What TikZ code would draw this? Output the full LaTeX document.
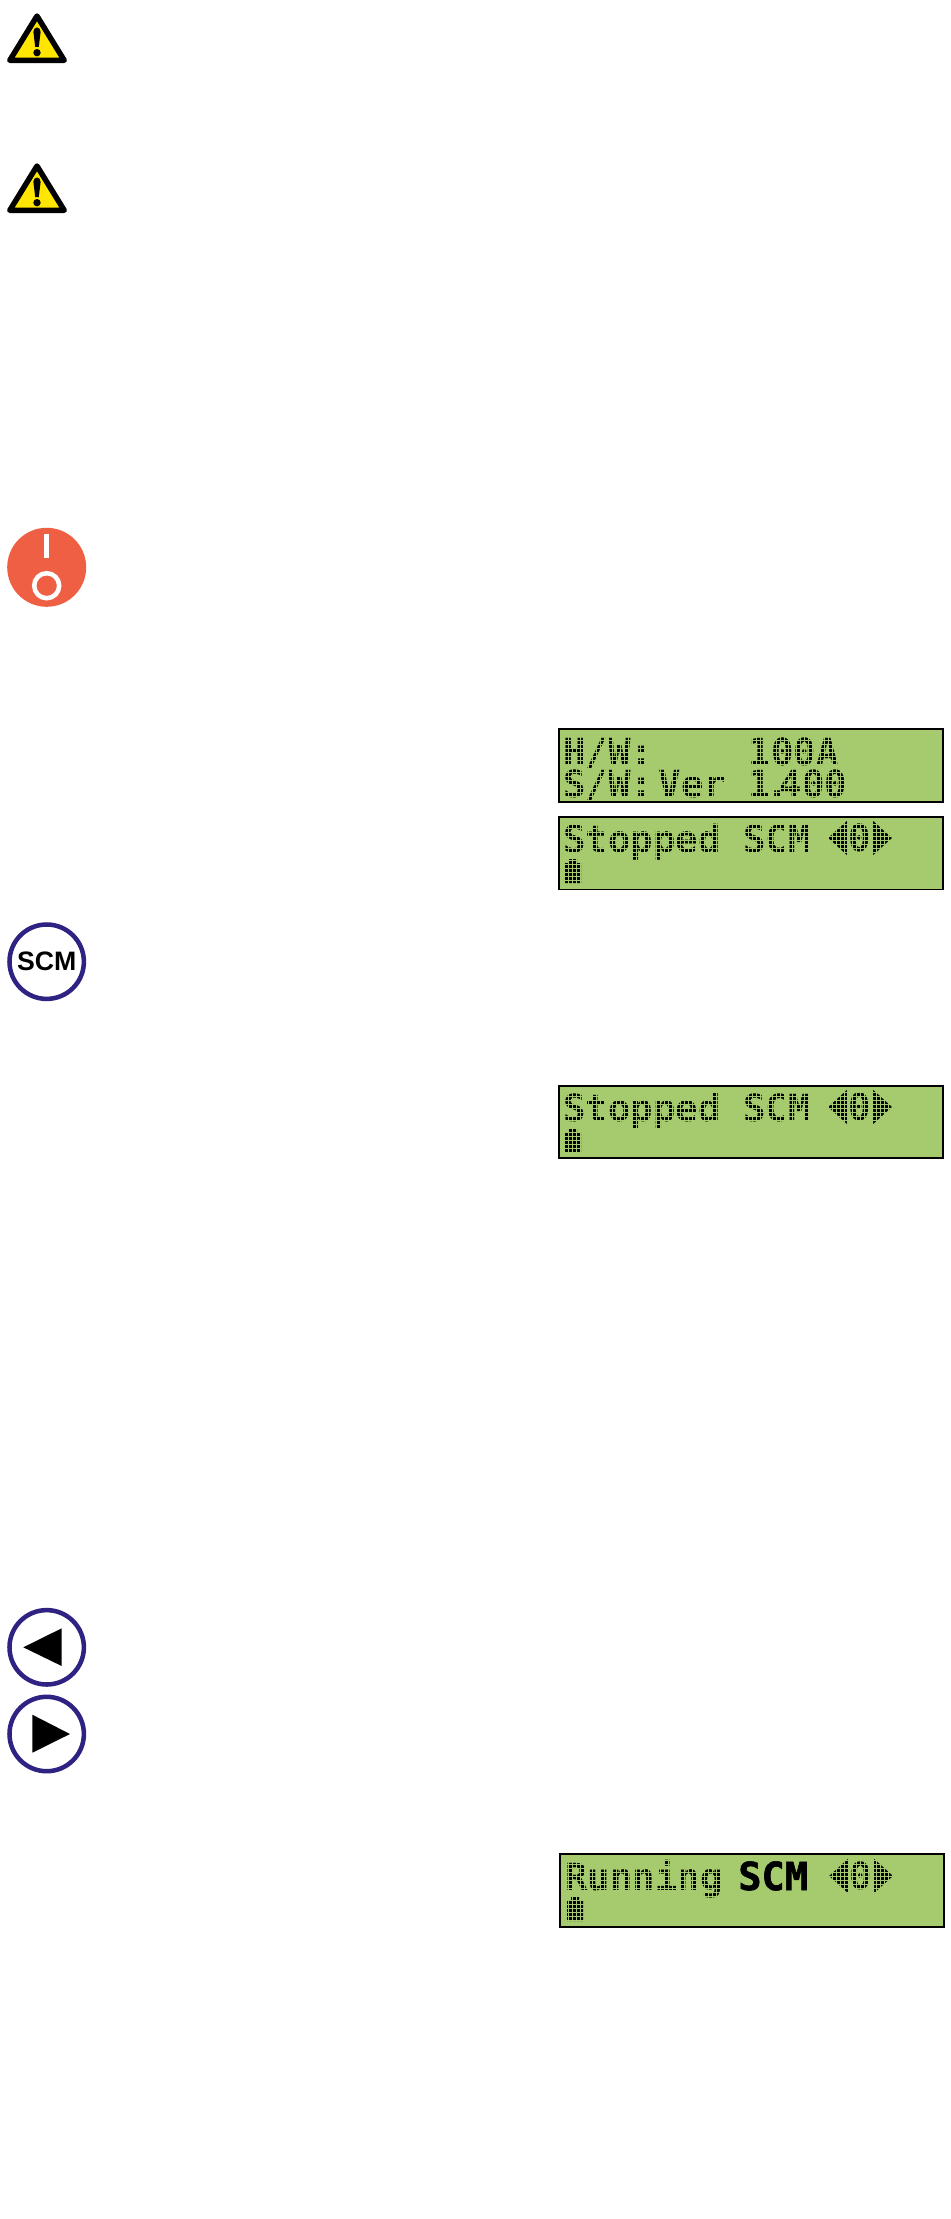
\documentclass[tikz,border=0pt]{standalone}
\usepackage{fontspec}
\setmainfont{Liberation Sans}
\newfontfamily\lcdfont{DejaVu Sans Mono}
\newfontfamily\lcdheavy[UprightFont=* Bold, FakeBold=1.5]{DejaVu Sans Mono}
\usepackage{tikz}
\usetikzlibrary{positioning, calc}
\definecolor{WarnYellow}{RGB}{255,230,0}
\definecolor{PowerColor}{RGB}{238,95,67}
\definecolor{ButtonColor}{RGB}{46,35,130}
\definecolor{LcdColor}{RGB}{166,203,111}
\tikzstyle{warn edge} = [draw=black, fill=WarnYellow, line width=4.1pt, line join=round]
\tikzstyle{lcd panel} = [draw=black, fill=LcdColor, line width=1.1pt]
\tikzstyle{lcd grid} = [draw=LcdColor, line width=0.55pt, step=3pt]
\tikzset{
  lcd text/.style={anchor=base west, inner sep=0pt, text=black, font=\lcdfont\bfseries\fontsize{28}{24}\selectfont},
  lcd key/.style={lcd text, anchor=center},
  button ring/.style={draw=ButtonColor, fill=white, line width=3.4pt},
  button glyph/.style={fill=black}
}
% warning sign, shifted to its top left corner
\newcommand{\warnsign}[1]{%
  \begin{scope}[shift={#1}]
    \draw[warn edge] (37,16) -- (9.8,60.3) -- (64.2,60.3) -- cycle;
    \fill[black] (33.4,32) .. controls (33.4,26) and (40.6,26) .. (40.6,32) -- (38.8,47) -- (35.2,47) -- cycle;
    \fill[black] (37,52.7) circle (3.7);
  \end{scope}
}
% charge icon in the second row of a display
\newcommand{\lcdcharge}[1]{%
  \fill[black, shift={#1}] (6,66) -- (6,46) -- (10,46) -- (10,42) -- (18,42) -- (18,46) -- (22,46) -- (22,66) -- cycle;
}
% channel selector at the end of the first row
\newcommand{\lcdkeys}[2]{%
  \node[lcd key] (#1left) at ($#2+(-22,0)$) {\scalebox{0.85}[1.55]{◀}};
  \node[lcd key] (#1zero) at #2 {0};
  \node[lcd key] (#1right) at ($#2+(23,0)$) {\scalebox{0.85}[1.55]{▶}};
}
\begin{document}
\begin{tikzpicture}[x=0.75pt, y=-0.75pt]
  \useasboundingbox (0,0) rectangle (950,2219);

  % Warning signs
  \warnsign{(0,0)}
  \warnsign{(0,150)}

  % Power key
  \fill[PowerColor] (46.7,567.3) circle (39.5);
  \fill[white] (44.2,534) rectangle (49.2,558);
  \draw[white, line width=3.4pt] (46.7,585.7) circle (12.5);

  % Version display
  \draw[lcd panel] (559,729) rectangle (943,802);
  \node[lcd text, align=left] (version) at (563,797) {H/W:\hspace{71.7pt}100A\\S/W:\hspace{4.2pt}Ver\hspace{16.6pt}1\kern-3pt.\kern-7pt400};
  \draw[lcd grid] (560,730) grid (942,801);

  % Stopped display
  \draw[lcd panel] (559,817) rectangle (943,889);
  \node[lcd text] (stopped) at (563,852) {Stopped SCM};
  \lcdkeys{stop}{(860,838)}
  \lcdcharge{(559,817)}
  \draw[lcd grid] (560,818) grid (942,888);

  % SCM key
  \draw[button ring] (46.7,961.7) circle (37.2);
  \node[font=\bfseries\fontsize{20}{20}\selectfont] (scmkey) at (46.7,961.7) {SCM};

  % Stopped display, again
  \draw[lcd panel] (559,1086) rectangle (943,1158);
  \node[lcd text] (stoppedb) at (563,1121) {Stopped SCM};
  \lcdkeys{again}{(860,1107)}
  \lcdcharge{(559,1086)}
  \draw[lcd grid] (560,1087) grid (942,1157);

  % Arrow keys
  \draw[button ring] (46.7,1647.3) circle (37.2);
  \fill[button glyph] (23.3,1647.3) -- (61.7,1628.3) -- (61.7,1666) -- cycle;
  \draw[button ring] (46.7,1734) circle (37.2);
  \fill[button glyph] (70,1734) -- (32.3,1714.7) -- (32.3,1752.7) -- cycle;

  % Running display
  \draw[lcd panel] (560,1854) rectangle (944,1927);
  \node[lcd text] (running) at (565,1890) {Running};
  \lcdkeys{run}{(861,1876)}
  \lcdcharge{(561,1855)}
  \draw[lcd grid] (561,1855) grid (943,1926);
  \node[lcd text, font=\lcdheavy\fontsize{29}{29}\selectfont] (runscm) at (738,1890) {SCM};
\end{tikzpicture}
\end{document}
